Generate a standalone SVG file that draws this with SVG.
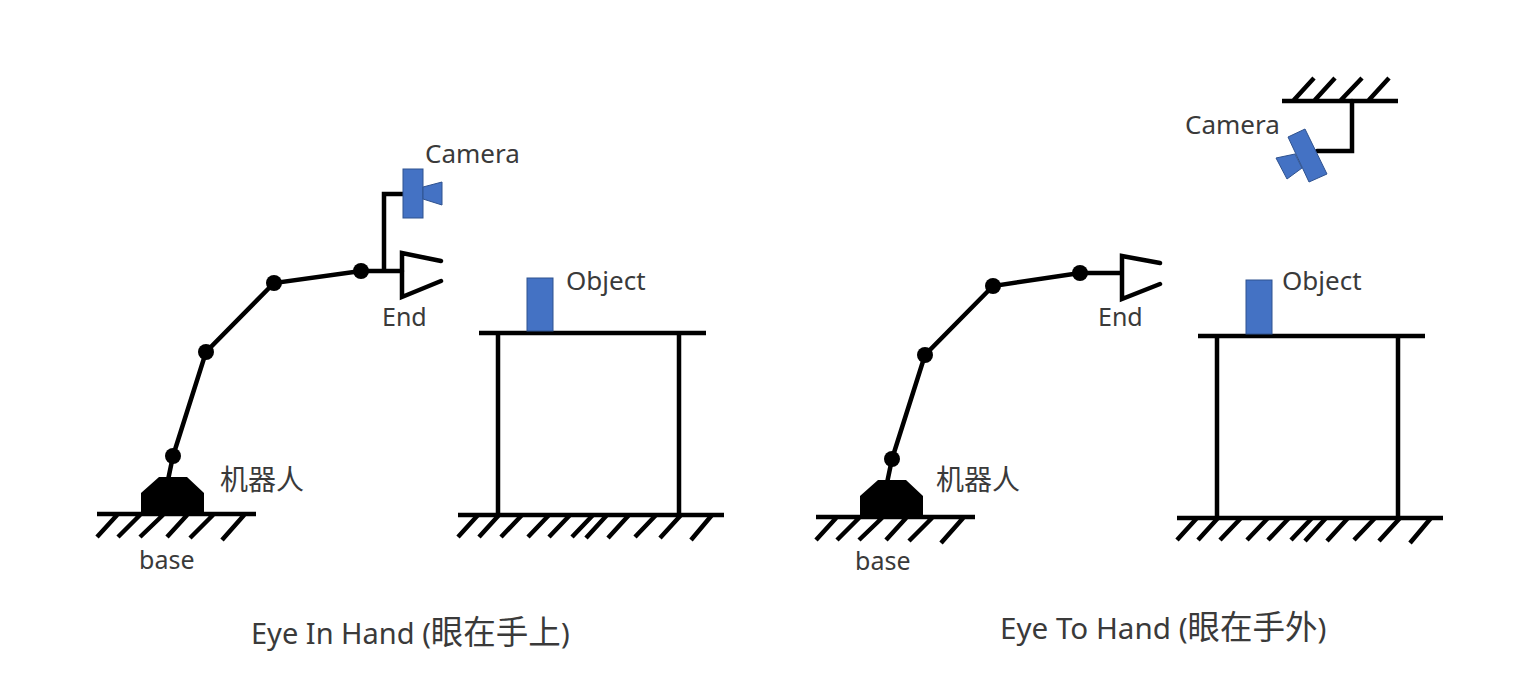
<svg xmlns="http://www.w3.org/2000/svg" width="1524" height="682" viewBox="0 0 1524 682">
<style>
text{font-family:"Noto Sans","Noto Sans CJK SC",sans-serif;fill:#3a3a3a;font-size:25px}
.big{font-size:26px}
.cn{font-size:28px}
.cap{font-size:29px}
.capr{font-size:29.6px}
.capcn{font-size:32.5px}
.l{fill:none;stroke:#000;stroke-width:4.5;stroke-linecap:round;stroke-linejoin:miter}
.h{fill:none;stroke:#000;stroke-width:4.5}
.b{fill:#4472c4;stroke:#2f528f;stroke-width:1}
.k{fill:#000}
</style>
<rect width="1524" height="682" fill="#fff"/>
<g id="connectors">
<path class="l" d="M173 456L206 352L274 283L361 271H402M384 271V194H403"/>
<path class="l" d="M892 459L925 355L993 286L1080 273H1121"/>
<path class="l" d="M168 480L173 456M887 483L892 459"/>
<path class="l" d="M1352 101V151H1317"/>
</g>
<g id="left-robot">
<path class="k" d="M141 515V493L159 477H187L204 493V515Z"/>
<circle class="k" cx="173" cy="456" r="8"/><circle class="k" cx="206" cy="352" r="8"/><circle class="k" cx="274" cy="283" r="8"/><circle class="k" cx="361" cy="271" r="8"/>
<path class="h" d="M97 514H256M97 537L118 514M118 537L141 514M140 537L164 514M167 537L188 514M190 538L214 514M222 540L245 514"/>
<text class="cn" x="220" y="490">机器人</text>
<text x="139" y="569">base</text>
</g>
<g id="left-end">
<path class="l" d="M441 261L402 253V297L441 281"/>
<text x="382" y="326">End</text>
</g>
<g id="left-camera">
<rect class="b" x="403" y="169" width="20" height="49"/>
<path class="b" d="M423 187L442 182V205L423 199Z"/>
<text class="big" x="425" y="163">Camera</text>
</g>
<g id="left-table">
<path class="h" d="M479 333H706M498 333V515M679 333V515M458 515H724"/>
<path class="h" d="M458 537L478 515M479 537L499 515M501 537L522 515M528 537L549 515M549 537L570 515M572 537L593 515M586 538L607 515M608 538L629 515M635 537L656 515M660 538L681 515M691 540L712 515"/>
<rect class="b" x="527" y="278" width="26" height="53"/>
<text class="big" x="566" y="290">Object</text>
</g>
<text id="left-caption" class="cap" x="251" y="644">Eye In Hand (<tspan class="capcn">眼在手上</tspan>)</text>
<g id="right-robot">
<path class="k" d="M860 518V496L878 480H906L923 496V518Z"/>
<circle class="k" cx="892" cy="459" r="8"/><circle class="k" cx="925" cy="355" r="8"/><circle class="k" cx="993" cy="286" r="8"/><circle class="k" cx="1080" cy="273" r="8"/>
<path class="h" d="M816 517H975M816 540L837 517M837 540L860 517M859 540L883 517M886 540L907 517M909 541L933 517M941 543L964 517"/>
<text class="cn" x="936" y="490">机器人</text>
<text x="855" y="570">base</text>
</g>
<g id="right-end">
<path class="l" d="M1160 263L1122 256V299L1160 284"/>
<text x="1098" y="326">End</text>
</g>
<g id="right-camera">
<path class="h" d="M1282 101H1398M1293 101L1314 78M1314 101L1335 78M1340 101L1362 78M1368 101L1389 78"/>
<path class="b" d="M1276 158L1295 154L1302 168L1287 179Z"/>
<path class="b" d="M1288 137L1305 129L1327 174L1309 182Z"/>
<text class="big" x="1185" y="134">Camera</text>
</g>
<g id="right-table">
<path class="h" d="M1198 336H1425M1217 336V518M1398 336V518M1177 518H1443"/>
<path class="h" d="M1177 540L1197 518M1198 540L1218 518M1220 540L1241 518M1247 540L1268 518M1268 540L1289 518M1291 540L1312 518M1305 541L1326 518M1327 541L1348 518M1354 540L1375 518M1379 541L1400 518M1410 543L1431 518"/>
<rect class="b" x="1246" y="280" width="26" height="54"/>
<text class="big" x="1282" y="290">Object</text>
</g>
<text id="right-caption" class="capr" x="1000" y="639">Eye To Hand (<tspan class="capcn">眼在手外</tspan>)</text>
</svg>
